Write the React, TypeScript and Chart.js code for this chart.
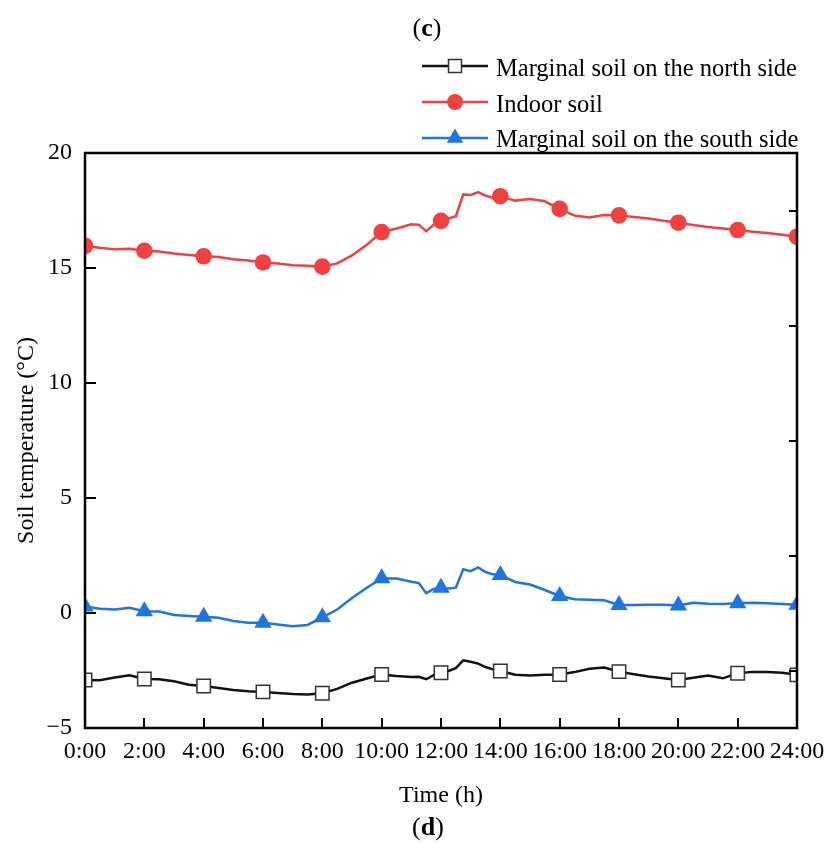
import React, { useEffect, useRef } from 'react';
import { Chart, registerables } from 'chart.js';

Chart.register(...registerables);

const FONT = '"Liberation Serif", "Times New Roman", serif';

// Time of day (h)
const hours = [
  0, 0.5, 1, 1.5, 2, 2.5, 3, 3.5, 4, 4.5, 5, 5.5, 6, 6.5, 7, 7.5, 8, 8.5, 9, 9.5, 10, 10.5, 11,
  11.25, 11.5, 11.75, 12, 12.25, 12.5, 12.75, 13, 13.25, 13.5, 13.75, 14,
  14.5, 15, 15.5, 16, 16.5, 17, 17.5, 18, 18.5, 19, 19.5, 20, 20.5, 21, 21.5, 22, 22.5, 23, 23.5, 24,
];

// Marginal soil on the north side (°C)
const northSoil = [
  -2.91, -2.92, -2.8, -2.71, -2.87, -2.88, -2.97, -3.12, -3.17, -3.26, -3.35, -3.4, -3.43, -3.48, -3.52, -3.54, -3.49, -3.3, -3.03, -2.85, -2.67, -2.74, -2.78,
  -2.77, -2.88, -2.7, -2.6, -2.52, -2.4, -2.06, -2.12, -2.2, -2.35, -2.45, -2.52,
  -2.68, -2.72, -2.69, -2.67, -2.57, -2.42, -2.37, -2.55, -2.66, -2.76, -2.84, -2.91, -2.82, -2.72, -2.84, -2.62, -2.56, -2.57, -2.6, -2.69,
];

// Indoor soil (°C)
const indoorSoil = [
  15.96, 15.88, 15.81, 15.84, 15.75, 15.72, 15.63, 15.57, 15.51, 15.48, 15.38, 15.33, 15.24, 15.2, 15.12, 15.1, 15.06, 15.2, 15.55, 16.01, 16.56, 16.72, 16.9,
  16.88, 16.6, 16.88, 17.05, 17.15, 17.25, 18.2, 18.17, 18.3, 18.15, 18.05, 18.12,
  17.93, 18.0, 17.9, 17.57, 17.28, 17.2, 17.3, 17.29, 17.22, 17.15, 17.05, 16.97, 16.87, 16.78, 16.72, 16.65, 16.58, 16.52, 16.45, 16.36,
];

// Marginal soil on the south side (°C)
const southSoil = [
  0.28, 0.18, 0.15, 0.23, 0.08, 0.06, -0.09, -0.13, -0.16, -0.21, -0.35, -0.42, -0.42, -0.5, -0.58, -0.52, -0.19, 0.15, 0.65, 1.1, 1.51, 1.5, 1.36,
  1.3, 0.86, 1.05, 1.1, 1.07, 1.1, 1.9, 1.82, 1.98, 1.78, 1.68, 1.65,
  1.35, 1.24, 1.0, 0.74, 0.6, 0.58, 0.55, 0.35, 0.35, 0.36, 0.36, 0.33, 0.45, 0.4, 0.39, 0.42, 0.45, 0.42, 0.39, 0.36,
];

const markerHours = [0, 2, 4, 6, 8, 10, 12, 14, 16, 18, 20, 22, 24];
const xTickHours = [2, 4, 6, 8, 10, 12, 14, 16, 18, 20, 22];
const leftTickValues = [15, 10, 5, 0];
const rightTickValues = [17.5, 12.5, 7.5, 2.5, -2.5];

const seriesNames = [
  'Marginal soil on the north side',
  'Indoor soil',
  'Marginal soil on the south side',
];

const BLACK = '#111111';
const RED = '#F04040';
const BLUE = '#1E74E2';

function drawMarker(ctx: CanvasRenderingContext2D, kind: string, x: number, y: number) {
  ctx.save();
  if (kind === 'rect') {
    const s = 6.5;
    ctx.fillStyle = '#ffffff';
    ctx.strokeStyle = '#333333';
    ctx.lineWidth = 1.5;
    ctx.fillRect(x - s, y - s, 2 * s, 2 * s);
    ctx.strokeRect(x - s, y - s, 2 * s, 2 * s);
  } else if (kind === 'circle') {
    ctx.fillStyle = RED;
    ctx.beginPath();
    ctx.arc(x, y, 8, 0, Math.PI * 2);
    ctx.fill();
  } else {
    const r = 9.5;
    ctx.fillStyle = BLUE;
    ctx.beginPath();
    ctx.moveTo(x, y - r);
    ctx.lineTo(x + r * Math.sin(Math.PI / 3), y + r * 0.5);
    ctx.lineTo(x - r * Math.sin(Math.PI / 3), y + r * 0.5);
    ctx.closePath();
    ctx.fill();
  }
  ctx.restore();
}

const decorPlugin = {
  id: 'decor',
  afterDraw(chart: any) {
    const { ctx, chartArea: a, scales } = chart;
    const xs = scales.x;
    const ys = scales.y;
    ctx.save();
    // frame
    ctx.strokeStyle = '#000';
    ctx.lineWidth = 2.5;
    ctx.strokeRect(a.left, a.top, a.right - a.left, a.bottom - a.top);
    // inward ticks
    ctx.lineWidth = 2;
    ctx.beginPath();
    for (const v of leftTickValues) {
      const py = Math.round(ys.getPixelForValue(v));
      ctx.moveTo(a.left, py);
      ctx.lineTo(a.left + 11, py);
    }
    for (const v of rightTickValues) {
      const py = Math.round(ys.getPixelForValue(v));
      ctx.moveTo(a.right, py);
      ctx.lineTo(a.right - 8, py);
    }
    for (const h of xTickHours) {
      const px = Math.round(xs.getPixelForValue(h));
      ctx.moveTo(px, a.bottom);
      ctx.lineTo(px, a.bottom - 10);
    }
    ctx.stroke();

    // legend
    const kinds = ['rect', 'circle', 'triangle'];
    const colors = [BLACK, RED, BLUE];
    const lineYs = [66, 102, 138];
    const baseYs = [76, 112, 147];
    for (let i = 0; i < 3; i++) {
      ctx.strokeStyle = colors[i];
      ctx.lineWidth = 2.5;
      ctx.beginPath();
      ctx.moveTo(422, lineYs[i]);
      ctx.lineTo(488, lineYs[i]);
      ctx.stroke();
      drawMarker(ctx, kinds[i], 455, lineYs[i]);
      ctx.fillStyle = '#000';
      ctx.font = `24.5px ${FONT}`;
      ctx.textAlign = 'left';
      ctx.textBaseline = 'alphabetic';
      ctx.fillText(seriesNames[i], 496, baseYs[i]);
    }

    // panel labels
    const drawPanel = (letter: string, cx: number, by: number) => {
      ctx.textBaseline = 'alphabetic';
      ctx.textAlign = 'left';
      ctx.font = `26px ${FONT}`;
      const wp = ctx.measureText('(').width;
      const wq = ctx.measureText(')').width;
      ctx.font = `bold 26px ${FONT}`;
      const wl = ctx.measureText(letter).width;
      const total = wp + wl + wq;
      let x = cx - total / 2;
      ctx.fillStyle = '#000';
      ctx.font = `26px ${FONT}`;
      ctx.fillText('(', x, by);
      x += wp;
      ctx.font = `bold 26px ${FONT}`;
      ctx.fillText(letter, x, by);
      x += wl;
      ctx.font = `26px ${FONT}`;
      ctx.fillText(')', x, by);
    };
    drawPanel('c', 427, 36);
    drawPanel('d', 428, 835);
    ctx.restore();
  },
};

export default function App() {
  const ref = useRef<HTMLCanvasElement>(null);
  useEffect(() => {
    document.body.style.margin = '0';
    const canvas = ref.current;
    if (!canvas) return;
    const pts = (vals: number[]) => hours.map((h, i) => ({ x: h, y: vals[i] }));
    const radiusFor = (r: number) => (c: any) => (c.raw && markerHours.includes(c.raw.x) ? r : 0);
    const chart = new Chart(canvas, {
      type: 'line',
      data: {
        datasets: [
          {
            label: seriesNames[0],
            data: pts(northSoil),
            borderColor: BLACK,
            borderWidth: 2.5,
            pointStyle: 'rect',
            pointRadius: radiusFor(9.5),
            pointBackgroundColor: '#ffffff',
            pointBorderColor: '#333333',
            pointBorderWidth: 1.5,
            tension: 0,
          },
          {
            label: seriesNames[1],
            data: pts(indoorSoil),
            borderColor: RED,
            borderWidth: 2.5,
            pointStyle: 'circle',
            pointRadius: radiusFor(8.3),
            pointBackgroundColor: RED,
            pointBorderColor: RED,
            pointBorderWidth: 0,
            tension: 0,
          },
          {
            label: seriesNames[2],
            data: pts(southSoil),
            borderColor: BLUE,
            borderWidth: 2.5,
            pointStyle: 'triangle',
            pointRadius: radiusFor(10),
            pointBackgroundColor: BLUE,
            pointBorderColor: BLUE,
            pointBorderWidth: 0,
            tension: 0,
          },
        ],
      },
      options: {
        animation: false,
        responsive: false,
        devicePixelRatio: 1,
        events: [],
        layout: { padding: { left: 0, right: 33, top: 153, bottom: 0 } },
        plugins: {
          legend: { display: false },
          tooltip: { enabled: false },
          title: { display: false },
        },
        scales: {
          x: {
            type: 'linear',
            min: 0,
            max: 24,
            afterFit: (s: any) => {
              s.height = 119;
              s.paddingLeft = 0;
              s.paddingRight = 0;
            },
            border: { display: false },
            grid: { drawOnChartArea: false, drawTicks: false },
            ticks: {
              stepSize: 2,
              autoSkip: false,
              maxRotation: 0,
              padding: 9,
              color: '#000',
              font: { family: FONT, size: 24 },
              callback: (v: any) => `${v}:00`,
            },
            title: {
              display: true,
              text: 'Time (h)',
              color: '#000',
              font: { family: FONT, size: 24 },
              padding: { top: 0, bottom: 37 },
            },
          },
          y: {
            type: 'linear',
            min: -5,
            max: 20,
            afterFit: (s: any) => {
              s.width = 85;
            },
            border: { display: false },
            grid: { drawOnChartArea: false, drawTicks: false },
            ticks: {
              stepSize: 5,
              padding: 13,
              color: '#000',
              font: { family: FONT, size: 24 },
              callback: (v: any) => (v < 0 ? `\u2212${Math.abs(v)}` : `${v}`),
            },
            title: {
              display: true,
              text: 'Soil temperature (°C)',
              color: '#000',
              font: { family: FONT, size: 24 },
              padding: { top: 12, bottom: 0 },
            },
          },
        },
      },
      plugins: [decorPlugin],
    } as any);
    return () => chart.destroy();
  }, []);
  return (
    <div style={{ width: 830, height: 847, background: '#fff' }}>
      <canvas ref={ref} width={830} height={847} style={{ display: 'block' }} />
    </div>
  );
}
